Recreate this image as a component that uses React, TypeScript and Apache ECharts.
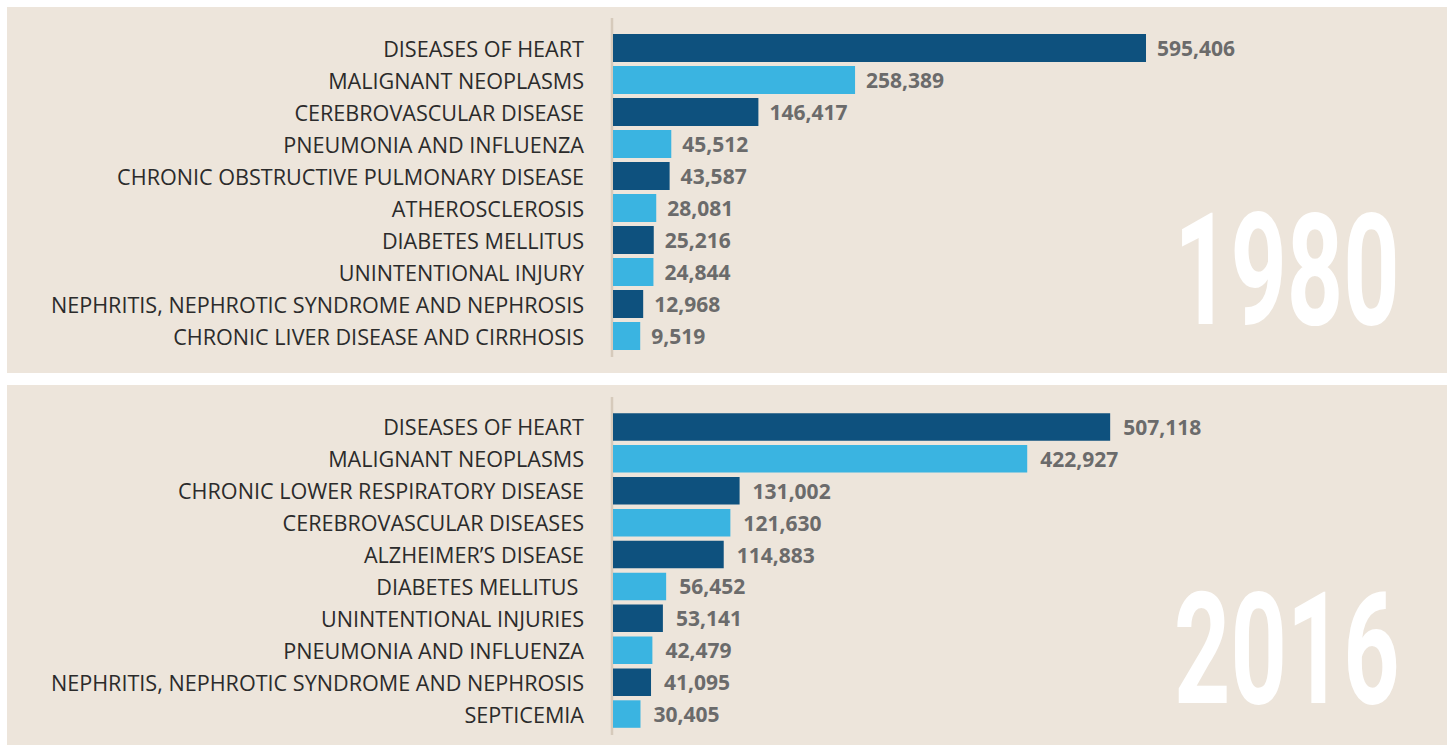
import React, { useEffect, useRef } from "react";
import * as echarts from "echarts";

const categories1980 = [
  "DISEASES OF HEART",
  "MALIGNANT NEOPLASMS",
  "CEREBROVASCULAR DISEASE",
  "PNEUMONIA AND INFLUENZA",
  "CHRONIC OBSTRUCTIVE PULMONARY DISEASE",
  "ATHEROSCLEROSIS",
  "DIABETES MELLITUS",
  "UNINTENTIONAL INJURY",
  "NEPHRITIS, NEPHROTIC SYNDROME AND NEPHROSIS",
  "CHRONIC LIVER DISEASE AND CIRRHOSIS",
];
const values1980 = [595406, 258389, 146417, 45512, 43587, 28081, 25216, 24844, 12968, 9519];

const categories2016 = [
  "DISEASES OF HEART",
  "MALIGNANT NEOPLASMS",
  "CHRONIC LOWER RESPIRATORY DISEASE",
  "CEREBROVASCULAR DISEASES",
  "ALZHEIMER\u2019S DISEASE",
  "DIABETES MELLITUS ",
  "UNINTENTIONAL INJURIES",
  "PNEUMONIA AND INFLUENZA",
  "NEPHRITIS, NEPHROTIC SYNDROME AND NEPHROSIS",
  "SEPTICEMIA",
];
const values2016 = [507118, 422927, 131002, 121630, 114883, 56452, 53141, 42479, 41095, 30405];

const years = ["1980", "2016"];
const barColors = ["#0E517E", "#3AB4E1"];

const PANEL_BG = "#EDE5DB";
const AXIS_LINE = "#D6CABB";
const VALUE_COLOR = "#6B6B6B";

export default function App() {
  const ref = useRef<HTMLDivElement>(null);

  useEffect(() => {
    const chart = echarts.init(ref.current as HTMLDivElement, null, { renderer: "svg" });
    const colorFor = (p: any) => barColors[p.dataIndex % 2];
    const fmtNum = (v: any) => Number(v).toLocaleString("en-US");
    const fmt = (p: any) => fmtNum(p.value);

    const yAxisCommon = {
      type: "category",
      inverse: true,
      axisLine: { show: false },
      axisTick: { show: false },
      splitLine: { show: false },
      axisLabel: {
        margin: 29,
        color: "#2B2B2B",
        fontFamily: "Open Sans",
        fontSize: 21.6,
      },
    };

    const yearText = (txt: string, x: number, y: number) => ({
      type: "text",
      x,
      y,
      scaleX: 0.63,
      z: 1,
      style: {
        text: txt,
        fill: "#FFFFFF",
        fontFamily: "Roboto",
        fontWeight: "bold",
        fontSize: 156,
        textAlign: "left",
        textVerticalAlign: "middle",
      },
    });

    chart.setOption({
      animation: false,
      backgroundColor: "#FFFFFF",
      graphic: [
        { type: "rect", z: -10, shape: { x: 7, y: 7, width: 1440, height: 366 }, style: { fill: PANEL_BG } },
        { type: "rect", z: -10, shape: { x: 7, y: 385, width: 1440, height: 360 }, style: { fill: PANEL_BG } },
        { type: "line", z: -5, shape: { x1: 612, y1: 18, x2: 612, y2: 357 }, style: { stroke: AXIS_LINE, lineWidth: 2.5 } },
        { type: "line", z: -5, shape: { x1: 612, y1: 397, x2: 612, y2: 735 }, style: { stroke: AXIS_LINE, lineWidth: 2.5 } },
        yearText(years[0], 1174, 271),
        yearText(years[1], 1174, 650),
      ],
      grid: [
        { left: 613, top: 32, width: 701, height: 320, containLabel: false },
        { left: 613, top: 411, width: 701, height: 319, containLabel: false },
      ],
      xAxis: [
        { type: "value", gridIndex: 0, min: -22000, max: 790000, show: false },
        { type: "value", gridIndex: 1, min: 2500, max: 714000, show: false },
      ],
      yAxis: [
        { ...yAxisCommon, gridIndex: 0, data: categories1980 },
        { ...yAxisCommon, gridIndex: 1, data: categories2016 },
      ],
      series: [
        {
          type: "custom",
          xAxisIndex: 0,
          yAxisIndex: 0,
          data: values1980.map((v, i) => [v, i]),
          encode: { x: 0, y: 1 },
          renderItem: (params: any, api: any) => {
            const v = api.value(0);
            const end = api.coord([v, api.value(1)]);
            const cs = params.coordSys;
            const h = 28;
            return {
              type: "rect",
              shape: { x: cs.x, y: end[1] - h / 2, width: end[0] - cs.x, height: h },
              style: { fill: barColors[params.dataIndex % 2] },
              textContent: {
                style: {
                  text: fmtNum(v),
                  fill: VALUE_COLOR,
                  fontFamily: "Open Sans",
                  fontWeight: "bold",
                  fontSize: 21,
                },
              },
              textConfig: { position: "right", distance: 11 },
            };
          },
        },
        {
          type: "bar",
          xAxisIndex: 1,
          yAxisIndex: 1,
          data: values2016,
          barWidth: 27.5,
          itemStyle: { color: colorFor },
          label: {
            show: true,
            position: "right",
            distance: 13,
            formatter: fmt,
            color: VALUE_COLOR,
            fontFamily: "Open Sans",
            fontWeight: "bold",
            fontSize: 21,
          },
        },
      ],
    });

    return () => chart.dispose();
  }, []);

  return (
    <div
      ref={ref}
      style={{ position: "fixed", left: 0, top: 0, width: 1452, height: 745, background: "#FFFFFF" }}
    />
  );
}
